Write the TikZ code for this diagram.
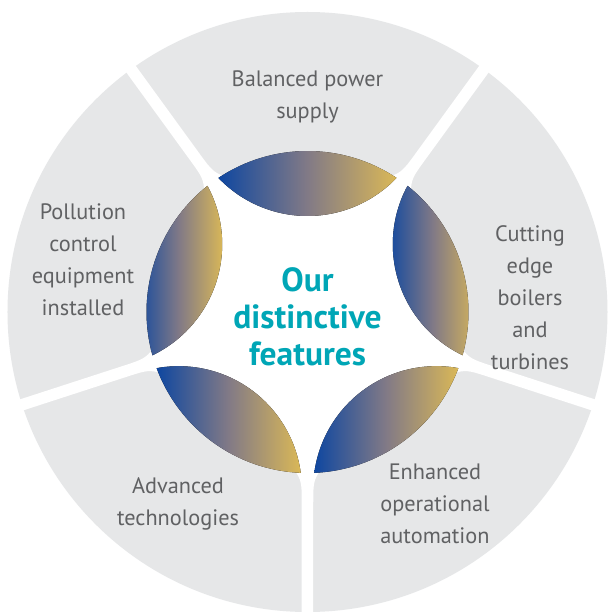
\documentclass[tikz,border=0pt]{standalone}
\usepackage{fontspec}
\setmainfont{PT Sans}
\usepackage{xcolor}
\definecolor{SectorGrey}{HTML}{E6E7E8}
\definecolor{LabelGrey}{HTML}{606163}
\definecolor{LensBlue}{HTML}{0F47A0}
\definecolor{LensMauve}{HTML}{827A86}
\definecolor{LensGold}{HTML}{DAB857}
\definecolor{CoreTeal}{HTML}{00A6B6}
\tikzset{
	lens/.style={left color=LensBlue, right color=LensGold, middle color=LensMauve},
	feature/.style={align=center, text=LabelGrey, font=\fontsize{22.3}{32}\selectfont},
	core/.style={align=center, text=CoreTeal, font=\fontsize{33.5}{37}\selectfont\bfseries},
}

\begin{document}
\begin{tikzpicture}[x=1pt,y=1pt]
			\fill[white] (-307.5,-301) rectangle (300.5,312);
			\useasboundingbox (-307.5,-301) rectangle (300.5,312);
			\begin{scope}
				\fill[SectorGrey] (0,0) circle (300);
				\foreach \Angle in {54,-18,-90,-162,126}{
					\fill[white, rotate=\Angle] (158,-13) .. controls (168,-6) and (172,-5.75) .. (190,-5.75)
						-- (305,-5.75) -- (305,5.75) -- (190,5.75)
						.. controls (172,5.75) and (168,6) .. (158,13) -- cycle;
				}
				\fill[white] (0,0) circle (161);
			\end{scope}
			\begin{scope}
				\foreach \Angle in {90,18,-54,-126,162}
					\fill[lens] (\Angle-33.6:161) arc[start angle=\Angle-33.6, end angle=\Angle+33.6, radius=161]
						arc[start angle=\Angle+133.7, end angle=\Angle+226.3, radius=123.2] -- cycle;
			\end{scope}
			\node[feature] (balanced) at (0,215) {Balanced power\\supply};
			\node[feature] (cutting) at (222.5,14) {Cutting\\edge\\boilers\\and\\turbines};
			\node[feature] (enhanced) at (127.5,-192) {Enhanced\\operational\\automation};
			\node[feature] (advanced) at (-129.5,-192) {Advanced\\technologies};
			\node[feature] (pollution) at (-224.5,52) {Pollution\\control\\equipment\\installed};
			\node[core] (core) at (0,-5) {Our\\distinctive\\features};
		\end{tikzpicture}
\end{document}
